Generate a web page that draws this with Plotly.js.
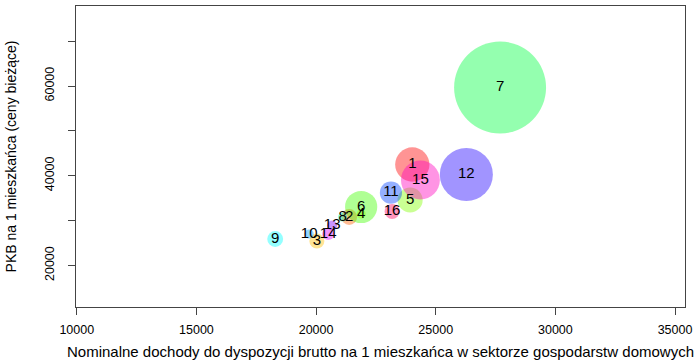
<!DOCTYPE html>
<html>
<head>
<meta charset="utf-8">
<script src="https://cdn.plot.ly/plotly-3.0.1.min.js"></script>
<style>html,body{margin:0;padding:0;background:#fff;}#chart{width:695px;height:360px;}</style>
</head>
<body>
<div id="chart"></div>
<script>
// Region numbers (labels)
var labels = ["1","2","3","4","5","6","7","8","9","10","11","12","13","14","15","16"];
// Nominal gross disposable income per capita (households)
var income = [24022, 21383, 20033, 21884, 23931, 21884, 27690, 21111, 18292, 19712, 23129, 26280, 20673, 20506, 24361, 23179];
// GDP per capita (current prices)
var gdpPerCapita = [42507, 30808, 25460, 31476, 34596, 33036, 59670, 30808, 25905, 27019, 36223, 40280, 28914, 27019, 39053, 32033];
// Bubble size variable (share of total, %)
var share = [8.2, 3.8, 3.6, 2.2, 6.0, 7.7, 22.0, 2.2, 3.8, 2.2, 5.3, 12.7, 2.4, 2.9, 9.3, 3.6];
// Bubble colours (rainbow, alpha 0.6)
var colors = [
  "rgba(255,0,0,0.6)", "rgba(255,96,0,0.6)", "rgba(255,191,0,0.6)", "rgba(191,255,0,0.6)",
  "rgba(128,255,0,0.6)", "rgba(64,255,0,0.6)", "rgba(0,255,64,0.6)", "rgba(0,255,159,0.6)",
  "rgba(0,255,255,0.6)", "rgba(0,159,255,0.6)", "rgba(0,64,255,0.6)", "rgba(32,0,255,0.6)",
  "rgba(128,0,255,0.6)", "rgba(223,0,255,0.6)", "rgba(255,0,191,0.6)", "rgba(255,0,96,0.6)"
];
var xTicks = [10000, 15000, 20000, 25000, 30000, 35000];
var yTicks = [20000, 30000, 40000, 50000, 60000, 70000];
var yTickText = ["20000", "", "40000", "", "60000", ""];

var FONT = "Liberation Sans, Arial, sans-serif";
var lineCol = "#444";

var trace = {
  type: "scatter",
  mode: "markers+text",
  x: income,
  y: gdpPerCapita,
  text: labels,
  textposition: "middle center",
  textfont: {family: FONT, size: 15, color: "#000"},
  marker: {
    size: share,
    sizemode: "diameter",
    sizeref: 1 / 4.18,
    color: colors,
    line: {width: 0}
  },
  hoverinfo: "x+y+text",
  cliponaxis: false
};

var layout = {
  width: 695, height: 360,
  margin: {l: 76, r: 10, t: 6, b: 53},
  paper_bgcolor: "#fff", plot_bgcolor: "#fff",
  showlegend: false,
  font: {family: FONT, size: 12, color: "#000"},
  xaxis: {
    range: [9967, 35418],
    tickmode: "array", tickvals: xTicks, ticktext: xTicks.map(String),
    ticks: "outside", ticklen: 7, tickwidth: 1, tickcolor: lineCol,
    showline: true, mirror: true, linecolor: lineCol, linewidth: 1,
    showgrid: false, zeroline: false,
    tickfont: {family: FONT, size: 12.5, color: "#000"},
    ticklabelstandoff: 4,
    automargin: false,
    title: {text: "Nominalne dochody do dyspozycji brutto na 1 mieszkańca w sektorze gospodarstw domowych",
            font: {family: FONT, size: 15, color: "#000"}, standoff: 10}
  },
  yaxis: {
    range: [10752, 77827],
    tickmode: "array", tickvals: yTicks, ticktext: yTickText,
    tickangle: -90,
    ticks: "outside", ticklen: 7, tickwidth: 1, tickcolor: lineCol,
    showline: true, mirror: true, linecolor: lineCol, linewidth: 1,
    showgrid: false, zeroline: false,
    tickfont: {family: FONT, size: 12.5, color: "#000"},
    ticklabelstandoff: 9,
    automargin: false,
    title: {text: "PKB na 1 mieszkańca (ceny bieżące)",
            font: {family: FONT, size: 14, color: "#000"}, standoff: 23}
  }
};

Plotly.newPlot("chart", [trace], layout, {staticPlot: true, displayModeBar: false});
</script>
</body>
</html>
